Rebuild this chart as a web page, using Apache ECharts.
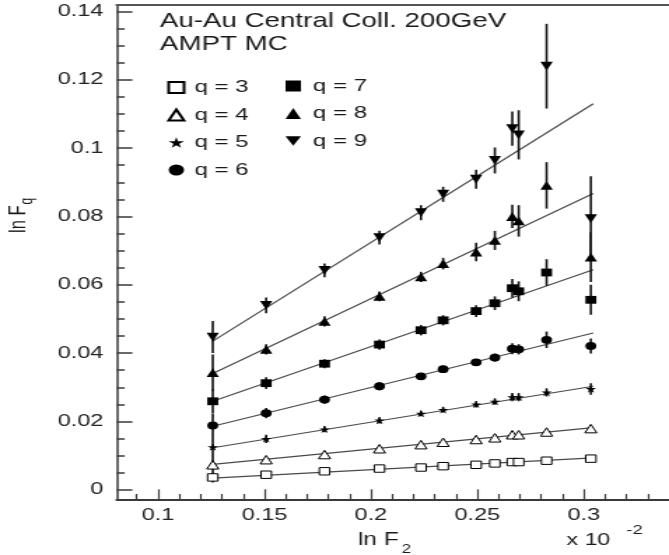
<!DOCTYPE html>
<html><head><meta charset="utf-8">
<script src="https://cdn.jsdelivr.net/npm/echarts@6.0.0/dist/echarts.min.js"></script>
<style>
html,body{margin:0;padding:0;background:#fff;overflow:hidden;}
#c{width:478px;height:555px;transform:scaleX(1.39958);transform-origin:0 0;}
</style></head><body><div id="c"></div>
<script>
// ---- data ----
const xValues = [0.1257, 0.1508, 0.1782, 0.2040, 0.2235, 0.2339, 0.2494, 0.2582, 0.2664, 0.2694, 0.2825, 0.3033];

const q3 = [0.0036, 0.0044, 0.0054, 0.0062, 0.0065, 0.0069, 0.0073, 0.0077, 0.0081, 0.0081, 0.0085, 0.0091];
const q4 = [0.0073, 0.0088, 0.0103, 0.0120, 0.0132, 0.0139, 0.0147, 0.0152, 0.0161, 0.0161, 0.0169, 0.0179];
const q5 = [0.0125, 0.0149, 0.0177, 0.0203, 0.0223, 0.0234, 0.0250, 0.0258, 0.0271, 0.0271, 0.0285, 0.0295];
const q6 = [0.0188, 0.0224, 0.0264, 0.0303, 0.0332, 0.0353, 0.0373, 0.0387, 0.0413, 0.0411, 0.0439, 0.0421];
const q7 = [0.0259, 0.0312, 0.0369, 0.0425, 0.0467, 0.0496, 0.0523, 0.0546, 0.0590, 0.0581, 0.0636, 0.0556];
const q8 = [0.0343, 0.0411, 0.0493, 0.0566, 0.0623, 0.0662, 0.0696, 0.0730, 0.0800, 0.0787, 0.0891, 0.0681];
const q9 = [0.0447, 0.0540, 0.0642, 0.0738, 0.0811, 0.0865, 0.0909, 0.0964, 0.1057, 0.1039, 0.1240, 0.0794];

const e3 = [0.0015, 0.0005, 0.0005, 0.0005, 0.0005, 0.0005, 0.0005, 0.0005, 0.0006, 0.0006, 0.0006, 0.0008];
const e4 = [0.0023, 0.0008, 0.0008, 0.0008, 0.0008, 0.0008, 0.0008, 0.0009, 0.0009, 0.0009, 0.0009, 0.0010];
const e5 = [0.0029, 0.0012, 0.0009, 0.0009, 0.0008, 0.0008, 0.0009, 0.0009, 0.0012, 0.0012, 0.0012, 0.0017];
const e6 = [0.0035, 0.0015, 0.0012, 0.0012, 0.0010, 0.0010, 0.0010, 0.0012, 0.0016, 0.0015, 0.0024, 0.0022];
const e7 = [0.0035, 0.0017, 0.0013, 0.0015, 0.0015, 0.0015, 0.0017, 0.0020, 0.0027, 0.0029, 0.0039, 0.0044];
const e8 = [0.0053, 0.0015, 0.0015, 0.0014, 0.0015, 0.0017, 0.0027, 0.0028, 0.0034, 0.0046, 0.0068, 0.0073];
const e9 = [0.0047, 0.0023, 0.0020, 0.0020, 0.0022, 0.0022, 0.0028, 0.0038, 0.0050, 0.0072, 0.0124, 0.0124];

// straight-line fits: value at start x and end x
const fitX = [0.1257, 0.3044];
const fit3 = [0.0034, 0.0093];
const fit4 = [0.0074, 0.0182];
const fit5 = [0.0123, 0.0303];
const fit6 = [0.0186, 0.0459];
const fit7 = [0.0259, 0.0644];
const fit8 = [0.0340, 0.0867];
const fit9 = [0.0435, 0.1130];

const seriesNames = ['q = 3', 'q = 4', 'q = 5', 'q = 6', 'q = 7', 'q = 8', 'q = 9'];
const legendLeft = ['q = 3', 'q = 4', 'q = 5', 'q = 6'];
const legendRight = ['q = 7', 'q = 8', 'q = 9'];

const xMajorTicks = [0.1, 0.15, 0.2, 0.25, 0.3];
const xTickLabels = ['0.1', '0.15', '0.2', '0.25', '0.3'];
const xMinorTicks = [0.09, 0.11, 0.12, 0.13, 0.14, 0.16, 0.17, 0.18, 0.19, 0.21, 0.22, 0.23, 0.24,
                     0.26, 0.27, 0.28, 0.29, 0.31, 0.32, 0.33];
const yMajorTicks = [0, 0.02, 0.04, 0.06, 0.08, 0.1, 0.12, 0.14];
const yTickLabels = ['0', '0.02', '0.04', '0.06', '0.08', '0.1', '0.12', '0.14'];
const yMinorTicks = [0.005, 0.01, 0.015, 0.025, 0.03, 0.035, 0.045, 0.05, 0.055, 0.065, 0.07, 0.075,
                     0.085, 0.09, 0.095, 0.105, 0.11, 0.115, 0.125, 0.13, 0.135];

// ---- chart ----
const values = [q3, q4, q5, q6, q7, q8, q9];
const errors = [e3, e4, e5, e6, e7, e8, e9];
const fits = [fit3, fit4, fit5, fit6, fit7, fit8, fit9];

const STAR = 'path://M50,0L61,35L98,35L68,57L79,91L50,70L21,91L32,57L2,35L39,35Z';
const DOWN = 'path://M0,0L100,0L50,88Z';
const markers = [
  {symbol: 'rect', size: 7.4, fill: '#fff', bw: 1},
  {symbol: 'triangle', size: 8.5, fill: '#fff', bw: 1},
  {symbol: STAR, size: 7.5, fill: '#000', bw: 0},
  {symbol: 'circle', size: 7.8, fill: '#000', bw: 0},
  {symbol: 'rect', size: 7.8, fill: '#000', bw: 0},
  {symbol: 'triangle', size: 8.8, fill: '#000', bw: 0},
  {symbol: DOWN, size: 8.8, fill: '#000', bw: 0}
];

const FONT = '"Liberation Sans", Arial, Helvetica, sans-serif';
const AX = '#3a3a3a';
const XMIN = 0.0806, XMAX = 0.34, YMIN = -0.0028, YMAX = 0.142;

const series = [];
values.forEach((vals, k) => {
  series.push({
    type: 'line', data: [[fitX[0], fits[k][0]], [fitX[1], fits[k][1]]],
    symbol: 'none', silent: true, z: 2,
    lineStyle: {color: '#4a4a4a', width: 1.2}
  });
  series.push({
    type: 'custom', silent: true, z: 3,
    data: xValues.map((x, i) => [x, vals[i], errors[k][i]]),
    encode: {x: 0, y: 1},
    renderItem: function (params, api) {
      const x = api.value(0), y = api.value(1), e = api.value(2);
      const p1 = api.coord([x, y + e]);
      const p2 = api.coord([x, y - e]);
      return {type: 'line', shape: {x1: p1[0], y1: p1[1], x2: p2[0], y2: p2[1]},
              style: {stroke: '#111', lineWidth: 1.6}};
    }
  });
  const m = markers[k];
  series.push({
    type: 'scatter', name: seriesNames[k], z: 4,
    data: xValues.map((x, i) => [x, vals[i]]),
    symbol: m.symbol, symbolSize: m.size,
    itemStyle: {color: m.fill, borderColor: '#000', borderWidth: m.bw, opacity: 1}
  });
});

function lookup(ticks, labels) {
  return function (v) {
    let best = 0;
    ticks.forEach((t, i) => { if (Math.abs(t - v) < Math.abs(ticks[best] - v)) best = i; });
    return labels[best];
  };
}

const legendBase = {
  orient: 'vertical', padding: 0, itemWidth: 11, itemHeight: 11, itemGap: 10.5,
  selectedMode: false,
  textStyle: {fontSize: 17.2, lineHeight: 16, color: '#1a1a1a', fontFamily: FONT}
};

const chart = echarts.init(document.getElementById('c'));
chart.setOption({
  animation: false,
  backgroundColor: '#fff',
  title: {
    text: 'Au-Au Central Coll. 200GeV\nAMPT MC',
    left: 114.3, top: 9.5, padding: 0,
    textStyle: {fontSize: 19.8, fontWeight: 'normal', color: '#1a1a1a', fontFamily: FONT, lineHeight: 23.4}
  },
  legend: [
    Object.assign({}, legendBase, {data: legendLeft, left: 119.5, top: 79,
      textStyle: Object.assign({}, legendBase.textStyle, {padding: [0, 0, 0, 2.4]})}),
    Object.assign({}, legendBase, {data: legendRight, left: 204, top: 77.5,
      textStyle: Object.assign({}, legendBase.textStyle, {padding: [0, 0, 0, 3.6]})})
  ],
  grid: {left: 83.4, right: -11.7, top: 4.7, bottom: 55.7, containLabel: false},
  xAxis: [
    {type: 'value', min: XMIN, max: XMAX, position: 'bottom',
     axisLine: {show: true, onZero: false, lineStyle: {color: AX, width: 2}},
     axisTick: {show: true, inside: true, length: 10, customValues: xMajorTicks, lineStyle: {color: AX, width: 1.2}},
     axisLabel: {show: true, customValues: xMajorTicks, margin: 8, fontSize: 16.8, color: '#222', fontFamily: FONT,
                 formatter: lookup(xMajorTicks, xTickLabels)},
     splitLine: {show: false}},
    {type: 'value', min: XMIN, max: XMAX, position: 'bottom',
     axisLine: {show: false, onZero: false},
     axisTick: {show: true, inside: true, length: 5.3, customValues: xMinorTicks, lineStyle: {color: AX, width: 1.2}},
     axisLabel: {show: false}, splitLine: {show: false}},
    {type: 'value', min: XMIN, max: XMAX, position: 'top',
     axisLine: {show: true, onZero: false, lineStyle: {color: '#555', width: 2}},
     axisTick: {show: false}, axisLabel: {show: false}, splitLine: {show: false}}
  ],
  yAxis: [
    {type: 'value', min: YMIN, max: YMAX, position: 'left',
     axisLine: {show: true, onZero: false, lineStyle: {color: AX, width: 1.5}},
     axisTick: {show: true, inside: true, length: 11.2, customValues: yMajorTicks, lineStyle: {color: AX, width: 1.5}},
     axisLabel: {show: true, customValues: yMajorTicks, margin: 9.5, fontSize: 16.8, color: '#222', fontFamily: FONT,
                 formatter: lookup(yMajorTicks, yTickLabels)},
     splitLine: {show: false}},
    {type: 'value', min: YMIN, max: YMAX, position: 'left',
     axisLine: {show: false, onZero: false},
     axisTick: {show: true, inside: true, length: 5.7, customValues: yMinorTicks, lineStyle: {color: AX, width: 1.5}},
     axisLabel: {show: false}, splitLine: {show: false}}
  ],
  graphic: [
    {type: 'text', x: 255.7, y: 539.7, silent: true,
     style: {text: 'ln F', font: '17.5px ' + FONT, fill: '#1a1a1a', textAlign: 'left', textVerticalAlign: 'middle'}},
    {type: 'text', x: 287, y: 549.5, silent: true,
     style: {text: '2', font: '12px ' + FONT, fill: '#1a1a1a', textAlign: 'left', textVerticalAlign: 'middle'}},
    {type: 'text', x: 404.8, y: 540.8, silent: true,
     style: {text: 'x 10', font: '16.5px ' + FONT, fill: '#1a1a1a', textAlign: 'left', textVerticalAlign: 'middle'}},
    {type: 'text', x: 447.6, y: 530, silent: true,
     style: {text: '-2', font: '13px ' + FONT, fill: '#1a1a1a', textAlign: 'left', textVerticalAlign: 'middle'}},
    {type: 'group', x: 13.6, y: 233, rotation: Math.PI / 2, silent: true, children: [
      {type: 'text', x: 0, y: 0,
       style: {text: 'ln F', font: '16.5px ' + FONT, fill: '#1a1a1a', textAlign: 'left', textVerticalAlign: 'middle'}},
      {type: 'text', x: 28.5, y: 6,
       style: {text: 'q', font: '12px ' + FONT, fill: '#1a1a1a', textAlign: 'left', textVerticalAlign: 'middle'}}
    ]}
  ],
  series: series
});
</script></body></html>
